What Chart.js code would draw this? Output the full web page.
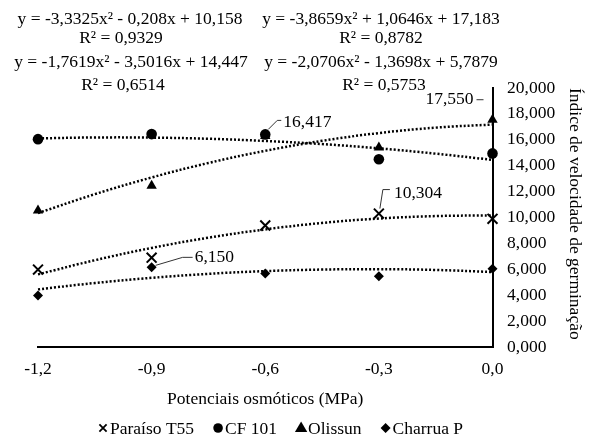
<!DOCTYPE html>
<html><head><meta charset="utf-8">
<script src="https://cdn.jsdelivr.net/npm/chart.js@4.4.0/dist/chart.umd.min.js"></script>
<style>html,body{margin:0;padding:0;background:#fff}#wrap{width:589px;height:439px;position:relative}</style>
</head><body><div id="wrap"><canvas id="c" width="589" height="439"></canvas></div>
<script>
// ---------- data ----------
const potentials = [-1.2, -0.9, -0.6, -0.3, 0.0];
const xTickValues = [-1.2, -0.9, -0.6, -0.3, 0.0];
const seriesNames = ['Paraíso T55', 'CF 101', 'Olissun', 'Charrua P'];
const paraiso = [5.98, 6.90, 9.38, 10.304, 9.90];
const cf101   = [16.05, 16.44, 16.417, 14.50, 14.95];
const olissun = [10.54, 12.46, 16.30, 15.40, 17.55];
const charrua = [3.98, 6.150, 5.67, 5.46, 6.05];
// trendlines
const trendX        = [-1.2, -1.05, -0.9, -0.75, -0.6, -0.45, -0.3, -0.15, 0.0];
const trendParaiso  = [5.61, 6.70, 7.65, 8.44, 9.08, 9.58, 9.92, 10.11, 10.16];
const trendCf101    = [16.11, 16.18, 16.17, 16.08, 15.91, 15.67, 15.34, 14.93, 14.45];
const trendOlissun  = [10.34, 11.80, 13.09, 14.21, 15.15, 15.92, 16.52, 16.94, 17.18];
const trendCharrua  = [4.45, 4.94, 5.34, 5.65, 5.86, 5.98, 6.01, 5.95, 5.79];
const equations = ['y = -3,3325x² - 0,208x + 10,158', 'y = -3,8659x² + 1,0646x + 17,183',
                   'y = -1,7619x² - 3,5016x + 14,447', 'y = -2,0706x² - 1,3698x + 5,7879'];
const rSquared  = ['R² = 0,9329', 'R² = 0,8782', 'R² = 0,6514', 'R² = 0,5753'];
const labelledIndex = [3, 2, 4, 1];
const xTitle = 'Potenciais osmóticos (MPa)';
const yTitle = 'Índice de velocidade de germinação';

// ---------- chart ----------
const FONT = '"Liberation Serif", "Times New Roman", serif';
const FS = 17.5;
const series = [paraiso, cf101, olissun, charrua];
const trends = [trendParaiso, trendCf101, trendOlissun, trendCharrua];
const styles = [
  {pointStyle: 'crossRot', radius: 7, borderWidth: 2},
  {pointStyle: 'circle', radius: 5.3, borderWidth: 0},
  {pointStyle: 'triangle', radius: 6, borderWidth: 0},
  {pointStyle: 'rectRot', radius: 5, borderWidth: 0}
];
const fmt3 = v => v.toFixed(3).replace('.', ',');
const toXY = (xs, ys) => xs.map((x, i) => ({x: x, y: ys[i]}));

const datasets = [];
trends.forEach((t, i) => datasets.push({
  label: 'trend ' + seriesNames[i], data: toXY(trendX, t), showLine: true,
  borderColor: '#000', borderWidth: 2.5, borderDash: [2, 2], pointRadius: 0,
  pointHoverRadius: 0, tension: 0.4, fill: false, clip: false, order: 1
}));
series.forEach((s, i) => datasets.push({
  label: seriesNames[i], data: toXY(potentials, s), showLine: false,
  pointStyle: styles[i].pointStyle, pointRadius: styles[i].radius,
  pointBorderWidth: styles[i].borderWidth, pointBackgroundColor: '#000',
  pointBorderColor: '#000', clip: false, order: 0
}));

function marker(ctx, style, x, y, r) {
  ctx.save(); ctx.fillStyle = '#000'; ctx.strokeStyle = '#000'; ctx.lineWidth = 1.8;
  ctx.beginPath();
  if (style === 'crossRot') {
    ctx.moveTo(x - r, y - r); ctx.lineTo(x + r, y + r);
    ctx.moveTo(x + r, y - r); ctx.lineTo(x - r, y + r); ctx.stroke();
  } else if (style === 'circle') {
    ctx.arc(x, y, r, 0, Math.PI * 2); ctx.fill();
  } else if (style === 'triangle') {
    ctx.moveTo(x, y - r); ctx.lineTo(x + r * 0.95, y + r * 0.6); ctx.lineTo(x - r * 0.95, y + r * 0.6);
    ctx.closePath(); ctx.fill();
  } else {
    ctx.moveTo(x, y - r); ctx.lineTo(x + r, y); ctx.lineTo(x, y + r); ctx.lineTo(x - r, y);
    ctx.closePath(); ctx.fill();
  }
  ctx.restore();
}

const overlay = {
  id: 'overlay',
  afterDraw(chart) {
    const ctx = chart.ctx, xs = chart.scales.x, ys = chart.scales.y;
    ctx.save();
    ctx.font = FS + 'px ' + FONT; ctx.fillStyle = '#000'; ctx.textBaseline = 'middle';
    // equations
    ctx.textAlign = 'center';
    const eqPos = [[130, 19], [381, 19], [131, 62], [381, 62]];
    const rPos = [[121, 38], [381, 38], [123, 85], [384, 85]];
    equations.forEach((e, i) => ctx.fillText(e, eqPos[i][0], eqPos[i][1]));
    rSquared.forEach((e, i) => ctx.fillText(e, rPos[i][0], rPos[i][1]));
    // legend
    ctx.textAlign = 'left';
    const legR = [5, 4.8, 6.5, 5];
    let lx = 98;
    seriesNames.forEach((n, i) => {
      marker(ctx, styles[i].pointStyle, lx + 5, 428, i === 0 ? 3.6 : legR[i]);
      ctx.fillText(n, lx + 12, 429);
      lx += 12 + ctx.measureText(n).width + 19;
    });
    // data labels with leader lines
    ctx.strokeStyle = '#333'; ctx.lineWidth = 1;
    const lbl = [
      {dx: 15, dy: -20, align: 'left', path: [[11, -24], [4, -24], [1, -5]]},
      {dx: 18, dy: -12, align: 'left', path: [[16, -14], [12, -14], [3, -5]]},
      {dx: -19, dy: -20, align: 'right', path: [[-16, -20], [-9, -20]]},
      {dx: 43, dy: -10, align: 'left', path: [[41, -10], [31, -10], [4, -2]]}
    ];
    series.forEach((s, i) => {
      const k = labelledIndex[i];
      const px = xs.getPixelForValue(potentials[k]), py = ys.getPixelForValue(s[k]);
      const L = lbl[i];
      ctx.beginPath();
      L.path.forEach((p, j) => j ? ctx.lineTo(px + p[0], py + p[1]) : ctx.moveTo(px + p[0], py + p[1]));
      ctx.stroke();
      ctx.textAlign = L.align;
      ctx.fillText(fmt3(s[k]), px + L.dx, py + L.dy);
    });
    ctx.restore();
  }
};

new Chart(document.getElementById('c'), {
  type: 'scatter',
  data: {datasets: datasets},
  plugins: [overlay],
  options: {
    responsive: false, animation: false, devicePixelRatio: 1,
    layout: {padding: {left: 38, top: 88, right: 0, bottom: 0}},
    plugins: {legend: {display: false}, tooltip: {enabled: false}},
    scales: {
      x: {
        type: 'linear', min: -1.2, max: 0,
        afterBuildTicks: s => { s.ticks = xTickValues.map(v => ({value: v})); },
        afterFit: s => { s.height = 92; },
        grid: {display: false, drawTicks: false},
        border: {display: true, color: '#000', width: 2},
        ticks: {padding: 11.5, color: '#000', font: {family: FONT, size: FS},
                callback: v => (Math.abs(v) < 1e-9 ? 0 : v).toFixed(1).replace('.', ',')},
        title: {display: true, text: xTitle, color: '#000', font: {family: FONT, size: FS},
                padding: {top: 0, bottom: 29.5}}
      },
      y: {
        type: 'linear', position: 'right', min: 0, max: 20,
        afterFit: s => { s.width = 96.5; },
        grid: {display: false, drawTicks: false},
        border: {display: true, color: '#000', width: 2},
        ticks: {stepSize: 2, padding: 14.5, color: '#000', font: {family: FONT, size: FS},
                callback: v => fmt3(v)},
        title: {display: true, text: yTitle, align: 'end', color: '#000',
                font: {family: FONT, size: FS}, padding: {top: 3.5, bottom: 0}}
      }
    }
  }
});
</script></body></html>
